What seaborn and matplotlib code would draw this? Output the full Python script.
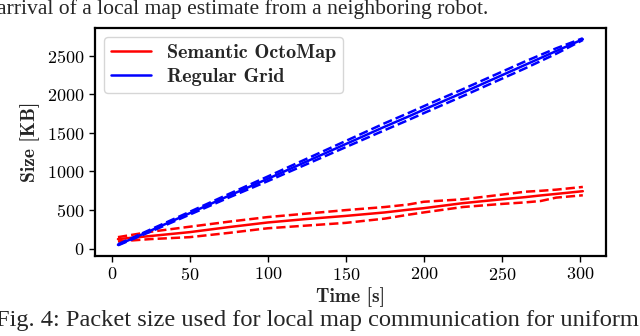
import pandas as pd
import seaborn as sns
import matplotlib.pyplot as plt
from matplotlib.lines import Line2D

# time stamps [s]
time_s = [4, 25, 50, 75, 100, 125, 150, 175, 190, 200, 225, 250, 265, 275, 285, 302]

# Semantic OctoMap packet size [KB]
octomap_mean = [125, 165, 215, 280, 340, 385, 425, 470, 505, 525, 590, 640, 668, 690, 710, 745]
octomap_upper = [150, 220, 285, 350, 410, 455, 500, 540, 572, 608, 640, 700, 738, 750, 765, 800]
octomap_lower = [95, 125, 150, 205, 265, 300, 335, 390, 440, 470, 540, 580, 600, 618, 662, 692]

# Regular grid packet size [KB]
grid_mean = [50, 235, 460, 685, 905, 1130, 1355, 1580, 1710, 1800, 2020, 2245, 2380, 2470, 2560, 2712]
grid_upper = [58, 250, 478, 708, 935, 1165, 1395, 1625, 1755, 1845, 2065, 2290, 2425, 2510, 2595, 2725]
grid_lower = [44, 222, 442, 662, 875, 1095, 1315, 1535, 1665, 1755, 1975, 2200, 2335, 2430, 2525, 2702]

series_names = ["Semantic OctoMap", "Regular Grid"]
series_colors = ["red", "blue"]

sns.set_style("ticks")
plt.rcParams["font.family"] = ["cmr10", "DejaVu Sans"]
plt.rcParams["axes.formatter.use_mathtext"] = True
plt.rcParams["mathtext.fontset"] = "cm"

fig = plt.figure(figsize=(6.4, 3.36), dpi=100)
ax = fig.add_axes([0.148, 0.239, 0.799, 0.678])

groups = [
    (octomap_mean, octomap_upper, octomap_lower),
    (grid_mean, grid_upper, grid_lower),
]
for (mean, upper, lower), color in zip(groups, series_colors):
    df = pd.DataFrame({"t": time_s, "mean": mean, "upper": upper, "lower": lower})
    sns.lineplot(data=df, x="t", y="mean", color=color, lw=1.8, ax=ax)
    sns.lineplot(data=df, x="t", y="upper", color=color, lw=1.8, ls="--", ax=ax)
    sns.lineplot(data=df, x="t", y="lower", color=color, lw=1.8, ls="--", ax=ax)

for side in ["left", "bottom", "right", "top"]:
    ax.spines[side].set_color("black")
    ax.spines[side].set_linewidth(1.6)
ax.tick_params(direction="out", length=4, width=1, labelsize=13, colors="black")
ax.set_yticks([0, 500, 1000, 1500, 2000, 2500])
ax.set_xticks([0, 50, 100, 150, 200, 250, 300])

ax.set_xlabel("Time [s]", family="cmb10", fontsize=14, labelpad=3)
ax.set_ylabel("Size [KB]", family="cmb10", fontsize=14, labelpad=5)

handles = [Line2D([0], [0], color=c, lw=1.8) for c in series_colors]
ax.legend(handles, series_names, loc="upper left", prop={"family": "cmb10", "size": 14.5},
          handlelength=2.0, borderaxespad=0.45, labelspacing=0.3, borderpad=0.35)

fig.text(-0.004, 0.972, "arrival of a local map estimate from a neighboring robot.",
         family="Liberation Serif", fontsize=15.6, va="center", ha="left")
fig.text(-0.006, 0.045, "Fig. 4: Packet size used for local map communication for uniform",
         family="Liberation Serif", fontsize=17.6, va="center", ha="left")

fig.savefig("out.png", dpi=100)
